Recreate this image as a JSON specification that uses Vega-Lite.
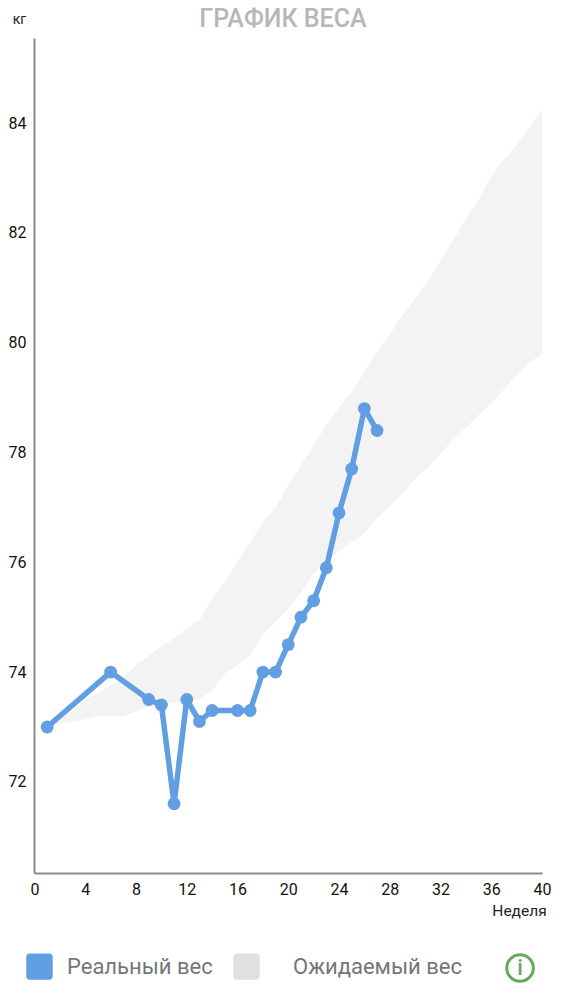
{"$schema":"https://vega.github.io/schema/vega-lite/v6.json","width":508,"height":835,"autosize":{"type":"none"},"padding":{"left":34,"top":38,"right":24,"bottom":127},"background":"white","title":{"text":"ГРАФИК ВЕСА","anchor":"middle","font":"Roboto","fontSize":25,"fontWeight":500,"color":"#b7b7b7","offset":-20,"dx":-5},"config":{"view":{"stroke":null},"font":"Roboto"},"datasets":{"actual":[{"week":1,"kg":73},{"week":6,"kg":74},{"week":9,"kg":73.5},{"week":10,"kg":73.4},{"week":11,"kg":71.6},{"week":12,"kg":73.5},{"week":13,"kg":73.1},{"week":14,"kg":73.3},{"week":16,"kg":73.3},{"week":17,"kg":73.3},{"week":18,"kg":74},{"week":19,"kg":74},{"week":20,"kg":74.5},{"week":21,"kg":75},{"week":22,"kg":75.3},{"week":23,"kg":75.9},{"week":24,"kg":76.9},{"week":25,"kg":77.7},{"week":26,"kg":78.8},{"week":27,"kg":78.4}],"band":[{"week":1,"lo":73,"hi":73},{"week":2,"lo":73.07,"hi":73.12},{"week":3,"lo":73.09,"hi":73.3},{"week":4,"lo":73.14,"hi":73.5},{"week":5,"lo":73.2,"hi":73.62},{"week":6,"lo":73.2,"hi":73.75},{"week":7,"lo":73.2,"hi":73.9},{"week":8,"lo":73.28,"hi":74.12},{"week":9,"lo":73.37,"hi":74.3},{"week":11,"lo":73.44,"hi":74.62},{"week":13,"lo":73.51,"hi":74.95},{"week":14,"lo":73.66,"hi":75.32},{"week":15,"lo":73.97,"hi":75.65},{"week":16,"lo":74.12,"hi":76.0},{"week":17,"lo":74.3,"hi":76.38},{"week":18,"lo":74.68,"hi":76.72},{"week":19,"lo":74.92,"hi":77.0},{"week":20,"lo":75.15,"hi":77.4},{"week":21,"lo":75.44,"hi":77.77},{"week":22,"lo":75.8,"hi":78.13},{"week":23,"lo":76.0,"hi":78.5},{"week":24,"lo":76.2,"hi":78.83},{"week":25,"lo":76.37,"hi":79.1},{"week":26,"lo":76.53,"hi":79.47},{"week":27,"lo":76.81,"hi":79.83},{"week":28,"lo":77.0,"hi":80.15},{"week":29,"lo":77.25,"hi":80.5},{"week":30,"lo":77.52,"hi":80.8},{"week":31,"lo":77.72,"hi":81.12},{"week":32,"lo":77.97,"hi":81.5},{"week":33,"lo":78.23,"hi":81.87},{"week":34,"lo":78.45,"hi":82.25},{"week":35,"lo":78.68,"hi":82.6},{"week":36,"lo":78.9,"hi":83.03},{"week":37,"lo":79.15,"hi":83.33},{"week":38,"lo":79.4,"hi":83.6},{"week":39,"lo":79.64,"hi":83.9},{"week":40,"lo":79.79,"hi":84.25}],"icon":[{"week":38.27,"kg":68.61,"t":"i"}]},"encoding":{"x":{"field":"week","type":"quantitative","scale":{"domain":[-0.04,40],"nice":false,"zero":false},"axis":{"values":[0,4,8,12,16,20,24,28,32,36,40],"grid":false,"ticks":false,"domainColor":"#8c8c8c","domainWidth":2,"labelColor":"#111111","labelFont":"Roboto","labelFontSize":16,"labelPadding":8,"labelFlush":false,"title":"Неделя","titleFont":"Roboto","titleFontSize":15.5,"titleFontWeight":"normal","titleColor":"#222222","titleX":485,"titleY":37,"titleAlign":"center","titleBaseline":"middle"}},"y":{"type":"quantitative","scale":{"domain":[70.34,85.55],"nice":false,"zero":false},"axis":{"values":[72,74,76,78,80,82,84],"grid":false,"ticks":false,"domainColor":"#8c8c8c","domainWidth":2,"labelColor":"#111111","labelFont":"Roboto","labelFontSize":16,"labelPadding":8,"title":"кг","titleFont":"Roboto","titleFontSize":14,"titleFontWeight":"normal","titleColor":"#222222","titleAngle":0,"titleX":-15,"titleY":-19,"titleAlign":"center","titleBaseline":"middle"}}},"layer":[{"data":{"name":"band"},"mark":{"type":"area","opacity":0.4,"clip":false},"encoding":{"y":{"field":"lo","type":"quantitative"},"y2":{"field":"hi"},"color":{"datum":"Ожидаемый вес","type":"nominal"}}},{"data":{"name":"actual"},"mark":{"type":"line","strokeWidth":5.5,"strokeJoin":"round","clip":false},"encoding":{"y":{"field":"kg","type":"quantitative"},"color":{"datum":"Реальный вес","type":"nominal","scale":{"domain":["Реальный вес","Ожидаемый вес"],"range":["#629fe2","#e0e0e0"]},"legend":{"title":null,"orient":"none","legendX":-8,"legendY":915,"direction":"horizontal","columns":2,"columnPadding":20,"symbolType":"M-0.75,-1H0.75A0.25,0.25 0 0 1 1,-0.75V0.75A0.25,0.25 0 0 1 0.75,1H-0.75A0.25,0.25 0 0 1 -1,0.75V-0.75A0.25,0.25 0 0 1 -0.75,-1Z","symbolSize":700,"symbolStrokeWidth":0,"symbolOpacity":1,"labelFont":"Roboto","labelFontSize":22,"labelColor":"#767676","labelOffset":14,"labelLimit":200,"encode":{"symbols":{"update":{"opacity":{"value":1},"fillOpacity":{"value":1}}},"labels":{"update":{"dx":{"signal":"datum.label == 'Ожидаемый вес' ? 19 : 0"}}}}}}}},{"data":{"name":"actual"},"mark":{"type":"point","filled":true,"size":165,"opacity":1,"clip":false,"color":"#629fe2"},"encoding":{"y":{"field":"kg","type":"quantitative"}}},{"data":{"name":"icon"},"mark":{"type":"point","filled":false,"size":707,"strokeWidth":3,"color":"#6aa85f","opacity":1,"clip":false},"encoding":{"y":{"field":"kg","type":"quantitative"}}},{"data":{"name":"icon"},"mark":{"type":"text","font":"Roboto","fontSize":22,"fontWeight":500,"color":"#6aa85f","clip":false},"encoding":{"y":{"field":"kg","type":"quantitative"},"text":{"field":"t"}}}]}
